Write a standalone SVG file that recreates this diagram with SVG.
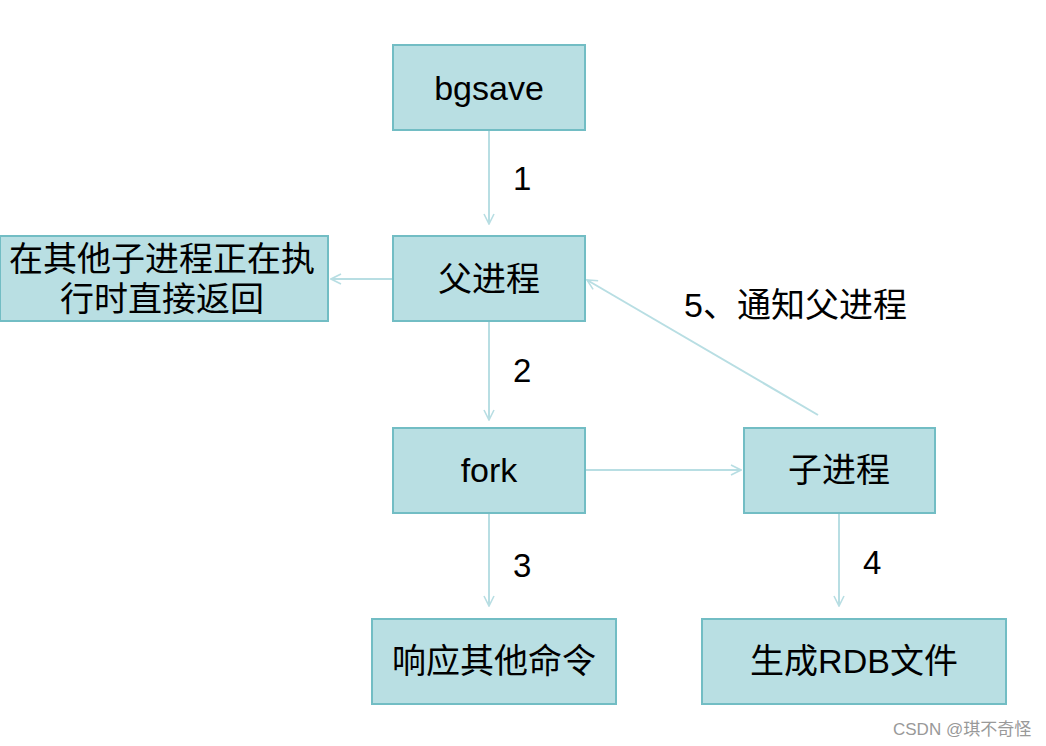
<svg xmlns="http://www.w3.org/2000/svg" width="1046" height="746" viewBox="0 0 1046 746">
<defs>
<style>
.box{fill:#B9DFE3;stroke:#72BDC4;stroke-width:2}
.t{font-family:"Liberation Sans","Noto Sans CJK SC",sans-serif;font-size:34px;fill:#000;text-anchor:middle}
.lbl{font-family:"Liberation Sans","Noto Sans CJK SC",sans-serif;font-size:33px;fill:#000}
.c{stroke:#B8DEE3;stroke-width:2;fill:none;marker-end:url(#arr)}
.wm{font-family:"Liberation Sans","Noto Sans CJK SC",sans-serif;font-size:17px;fill:#999}
</style>
<marker id="arr" viewBox="0 0 12 12" refX="11" refY="6" markerWidth="12" markerHeight="12" markerUnits="userSpaceOnUse" orient="auto">
<path d="M1,1 L11,6 L1,11" fill="none" stroke="#B8DEE3" stroke-width="1.6"/>
</marker>
</defs>
<rect width="1046" height="746" fill="#fff"/>
<g id="connectors">
<line class="c" x1="489" y1="131" x2="489" y2="224"/>
<line class="c" x1="392" y1="279" x2="331" y2="279"/>
<line class="c" x1="489" y1="322" x2="489" y2="420"/>
<line class="c" x1="586" y1="470" x2="741" y2="470"/>
<line class="c" x1="489" y1="514" x2="489" y2="606"/>
<line class="c" x1="839" y1="514" x2="839" y2="606"/>
<line class="c" x1="818" y1="415" x2="587" y2="280"/>
<text class="lbl" x="513" y="190">1</text>
<text class="lbl" x="513" y="382">2</text>
<text class="lbl" x="513" y="577">3</text>
<text class="lbl" x="863" y="574">4</text>
<text class="t" x="684" y="317" style="text-anchor:start">5、通知父进程</text>
</g>
<g id="bgsave"><rect class="box" x="393" y="45" width="192" height="85"/><text class="t" x="489" y="100">bgsave</text></g>
<g id="parent"><rect class="box" x="393" y="236" width="192" height="85"/><text class="t" x="489" y="291">父进程</text></g>
<g id="return"><rect class="box" x="0" y="236" width="328" height="85"/><text class="t" x="162" y="271">在其他子进程正在执</text><text class="t" x="162" y="311">行时直接返回</text></g>
<g id="fork"><rect class="box" x="393" y="428" width="192" height="85"/><text class="t" x="489" y="482">fork</text></g>
<g id="child"><rect class="box" x="744" y="428" width="191" height="85"/><text class="t" x="839" y="482">子进程</text></g>
<g id="respond"><rect class="box" x="372" y="619" width="244" height="85"/><text class="t" x="494" y="673">响应其他命令</text></g>
<g id="rdb"><rect class="box" x="702" y="619" width="304" height="85"/><text class="t" x="854" y="673">生成RDB文件</text></g>
<text class="wm" x="893" y="735">CSDN @琪不奇怪</text>
</svg>
